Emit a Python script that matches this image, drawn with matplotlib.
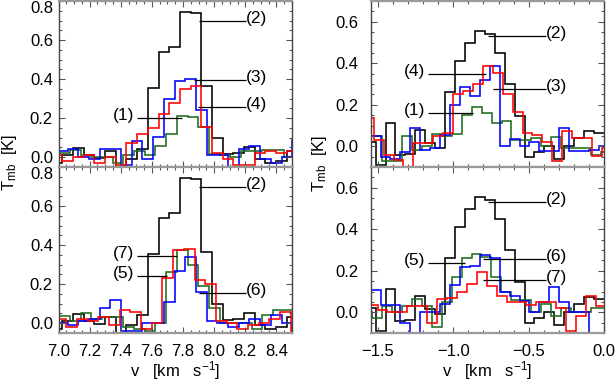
import matplotlib
matplotlib.use('Agg')
import matplotlib.pyplot as plt
import numpy as np
from matplotlib.ticker import MultipleLocator
from matplotlib.transforms import offset_copy

# ---------------- data ----------------
# left column (v = 7.0 .. 8.5 km/s), channel width
dv_left = 0.0687
# right column (v = -1.55 .. 0.0 km/s)
dv_right = 0.0659

# left-top panel: spectra (1) green, (2) black, (3) blue, (4) red
tl_black_start = 6.9555
tl_black = [-0.03, 0.01, 0.045, 0.012, -0.005, 0.03, -0.05, -0.01, 0.04, 0.356, 0.537,
            0.563, 0.746, 0.738, 0.365, 0.10, 0.017, 0.02, 0.05, -0.01, -0.03, -0.02, 0.03]
tl_blue_start = 6.990
tl_blue = [0.03, 0.04, 0.0, -0.01, 0.04, 0.04, -0.04, 0.085, -0.01, 0.105, 0.30, 0.39,
           0.40, 0.24, 0.01, 0.01, -0.05, 0.04, 0.06, -0.01, -0.03, 0.0, 0.09]
tl_red_start = 6.9555
tl_red = [0.01, -0.02, 0.0, 0.01, -0.03, 0.0, -0.04, 0.075, 0.12, 0.15, 0.22, 0.28,
          0.35, 0.365, 0.155, 0.02, -0.01, -0.04, -0.04, 0.02, 0.03, 0.02, 0.03]
tl_green_start = 6.9358
tl_green = [0.0, 0.02, 0.035, 0.01, 0.0, 0.0, -0.03, 0.01, 0.03, 0.01, 0.06, 0.12,
            0.21, 0.205, 0.155, 0.015, 0.01, 0.0, 0.03, 0.03, 0.035, 0.035, 0.0, 0.01]

# left-bottom panel: (2) black, (5) blue, (6) green, (7) red
bl_black_start = tl_black_start
bl_black = tl_black
bl_blue_start = 6.990
bl_blue = [0.0, -0.01, 0.01, 0.02, 0.08, 0.12, -0.04, -0.04, 0.0, 0.0, 0.11, 0.27,
           0.34, 0.16, 0.01, 0.0, -0.02, 0.0, 0.02, -0.01, 0.04, 0.0, -0.04]
bl_green_start = 6.9358
bl_green = [0.03, 0.035, 0.01, 0.05, 0.02, 0.03, 0.03, -0.02, -0.03, -0.04, 0.0, 0.26,
            0.375, 0.30, 0.19, 0.08, 0.0, 0.0, 0.0, -0.03, 0.04, 0.07, 0.07, 0.0]
bl_red_start = 6.981
bl_red = [0.02, -0.02, 0.02, 0.01, 0.03, -0.01, 0.07, 0.06, -0.03, 0.0, 0.23, 0.375,
          0.38, 0.22, 0.20, 0.01, 0.0, -0.03, -0.01, 0.0, 0.02, 0.06, -0.04]

# right-top panel: (1) green, (2) black, (3) blue, (4) red
tr_black_start = -1.582
tr_black = [0.02, -0.09, 0.11, -0.04, -0.035, 0.08, 0.015, -0.01, 0.26, 0.41, 0.50, 0.555,
            0.54, 0.45, 0.30, 0.145, -0.05, -0.03, 0.0, -0.06, 0.0, 0.04, 0.075, 0.065]
tr_blue_start = -1.615
tr_blue = [0.05, 0.05, -0.05, -0.06, -0.03, 0.09, -0.02, -0.01, 0.055, 0.20, 0.285, 0.24,
           0.32, 0.385, 0.0, 0.035, 0.0, 0.02, -0.025, -0.025, 0.09, -0.025, -0.025, -0.02, 0.0]
tr_red_start = -1.595
tr_red = [0.135, 0.03, -0.04, -0.065, -0.11, 0.016, 0.016, 0.05, 0.065, 0.25, 0.265, 0.30,
          0.385, 0.355, 0.25, 0.165, 0.065, 0.055, 0.02, -0.07, 0.075, 0.04, 0.04, -0.045, -0.01]
tr_green_start = -1.603
tr_green = [0.05, 0.05, -0.07, -0.07, 0.05, -0.02, 0.0, 0.06, 0.05, 0.06, 0.15, 0.19,
            0.16, 0.11, 0.12, 0.03, 0.03, 0.04, 0.0, 0.045, -0.01, -0.01, -0.01, -0.04, -0.03]

# right-bottom panel: (2) black, (5) blue, (6) green, (7) red
br_black_start = tr_black_start
br_black = tr_black
br_blue_start = -1.615
br_blue = [0.105, 0.105, 0.033, 0.033, -0.05, -0.12, 0.0, 0.0, 0.04, 0.13, 0.22, 0.225,
           0.275, 0.26, 0.10, 0.08, 0.055, 0.0, 0.05, 0.12, 0.05, 0.0, 0.0, -0.12, -0.12]
br_green_start = -1.604
br_green = [0.0, -0.03, 0.03, 0.0, 0.03, 0.065, 0.03, -0.07, 0.05, 0.17, 0.26, 0.283,
            0.265, 0.17, 0.10, 0.06, 0.06, 0.0, 0.04, -0.02, 0.02, 0.0, 0.0, 0.02, 0.02]
br_red_start = -1.569
br_red = [0.035, 0.01, 0.0, 0.0, 0.03, 0.03, -0.05, 0.065, 0.07, 0.10, 0.137, 0.195,
          0.125, 0.08, 0.05, 0.05, 0.035, 0.05, 0.05, 0.02, -0.09, -0.02, 0.08, 0.03]

# annotation leader lines: label, x from, x to, y, side of the text
tl_notes = [('(2)', 7.905, 8.205, 0.699, 'right'), ('(3)', 7.873, 8.205, 0.396, 'right'),
            ('(4)', 7.899, 8.205, 0.256, 'right'), ('(1)', 7.503, 7.792, 0.203, 'left')]
bl_notes = [('(2)', 7.905, 8.205, 0.699, 'right'), ('(7)', 7.503, 7.760, 0.342, 'left'),
            ('(5)', 7.503, 7.695, 0.243, 'left'), ('(6)', 7.905, 8.205, 0.155, 'right')]
tr_notes = [('(2)', -0.767, -0.384, 0.532, 'right'), ('(4)', -1.166, -0.783, 0.350, 'left'),
            ('(3)', -0.734, -0.384, 0.274, 'right'), ('(1)', -1.166, -0.871, 0.162, 'left')]
br_notes = [('(2)', -0.767, -0.384, 0.532, 'right'), ('(5)', -1.166, -0.922, 0.237, 'left'),
            ('(6)', -0.800, -0.384, 0.256, 'right'), ('(7)', -0.800, -0.384, 0.157, 'right')]

left_xlim = (7.0, 8.5)
left_ylim = (-0.05, 0.8)
right_xlim = (-1.55, 0.0)
right_ylim = (-0.1, 0.7)

xlabel = r'v   [km   s$^{-1}$]'
ylabel = r'T$_{\rm mb}$  [K]'

# ---------------- style ----------------
FONT = 'Liberation Sans'
FS = 12.0
plt.rcParams['font.family'] = [FONT, 'DejaVu Sans']
plt.rcParams['mathtext.fontset'] = 'custom'
plt.rcParams['mathtext.rm'] = FONT
plt.rcParams['mathtext.it'] = FONT
plt.rcParams['font.size'] = FS

COL = {'black': '#000000', 'blue': '#0000ff', 'red': '#ff0000', 'green': '#1e6b1e'}
LW = 1.15

W, H = 616, 381
fig = plt.figure(figsize=(W / 100, H / 100), dpi=100)

def px_box(x0, x1, ytop, ybot):
    return [x0 / W, (H - ybot) / H, (x1 - x0) / W, (ybot - ytop) / H]

ax_tl = fig.add_axes(px_box(58.5, 292, 1, 167))
ax_bl = fig.add_axes(px_box(58.5, 292, 167, 333))
ax_tr = fig.add_axes(px_box(370.5, 604, 1, 167))
ax_br = fig.add_axes(px_box(370.5, 604, 167, 333))

panels = [
    (ax_tl, left_xlim, left_ylim, dv_left,
     [(tl_black_start, tl_black, 'black'), (tl_green_start, tl_green, 'green'),
      (tl_blue_start, tl_blue, 'blue'), (tl_red_start, tl_red, 'red')], tl_notes, False),
    (ax_bl, left_xlim, left_ylim, dv_left,
     [(bl_black_start, bl_black, 'black'), (bl_green_start, bl_green, 'green'),
      (bl_blue_start, bl_blue, 'blue'), (bl_red_start, bl_red, 'red')], bl_notes, True),
    (ax_tr, right_xlim, right_ylim, dv_right,
     [(tr_black_start, tr_black, 'black'), (tr_green_start, tr_green, 'green'),
      (tr_blue_start, tr_blue, 'blue'), (tr_red_start, tr_red, 'red')], tr_notes, False),
    (ax_br, right_xlim, right_ylim, dv_right,
     [(br_black_start, br_black, 'black'), (br_green_start, br_green, 'green'),
      (br_blue_start, br_blue, 'blue'), (br_red_start, br_red, 'red')], br_notes, True),
]

fmt = plt.FuncFormatter(lambda v, p: f'{v:.1f}'.replace('-', '\u2212'))

for ax, xl, yl, dv, series, notes, bottom in panels:
    for start, vals, c in series:
        edges = start + dv * np.arange(len(vals) + 1)
        ax.stairs(vals, edges, baseline=None, color=COL[c], lw=LW)
    ax.set_xlim(*xl)
    ax.set_ylim(*yl)
    left = xl[0] > 0
    ax.xaxis.set_major_locator(MultipleLocator(0.2 if left else 0.5))
    ax.xaxis.set_minor_locator(MultipleLocator(0.05 if left else 0.1))
    ax.yaxis.set_major_locator(MultipleLocator(0.2))
    ax.yaxis.set_minor_locator(MultipleLocator(0.05))
    ax.tick_params(which='both', direction='in', top=True, right=True, color='#555555',
                   width=0.8)
    ax.tick_params(which='major', length=4.5)
    ax.tick_params(which='minor', length=2.2)
    ax.tick_params(axis='y', pad=4 if left else 9, labelsize=FS)
    ax.tick_params(axis='x', pad=8, labelsize=FS)
    ax.yaxis.set_major_formatter(fmt)
    ax.xaxis.set_major_formatter(fmt)
    if not bottom:
        ax.tick_params(axis='x', labelbottom=False)
    else:
        ax.set_xlabel(xlabel, labelpad=0, fontsize=FS)
    for s in ('left', 'right'):
        ax.spines[s].set_color('#444444')
        ax.spines[s].set_linewidth(1.0)
    for s in ('top', 'bottom'):
        ax.spines[s].set_color('#999999')
        ax.spines[s].set_linewidth(1.6)
    # leader lines and labels
    for lab, x0, x1, y, side in notes:
        ax.plot([x0, x1], [y, y], color='black', lw=0.9, solid_capstyle='butt')
        if side == 'right':
            tr = offset_copy(ax.transData, fig=fig, x=0, y=2.5, units='dots')
            ax.text(x1, y, lab, transform=tr, ha='left', va='center', fontsize=12.5)
        else:
            tr = offset_copy(ax.transData, fig=fig, x=-3, y=2.5, units='dots')
            ax.text(x0, y, lab, transform=tr, ha='right', va='center', fontsize=12.5)

fig.canvas.draw()
# top tick label (0.8) of the left column hangs below its tick
for ax in (ax_tl, ax_bl):
    for t in ax.yaxis.get_major_ticks():
        if abs(t.get_loc() - 0.8) < 1e-6:
            t.label1.set_verticalalignment('top')

fig.text(10 / W, 1 - 162 / H, ylabel, rotation=90, ha='center', va='center', fontsize=FS)
fig.text(320 / W, 1 - 163 / H, ylabel, rotation=90, ha='center', va='center', fontsize=FS)

fig.savefig('out.png', dpi=100)
